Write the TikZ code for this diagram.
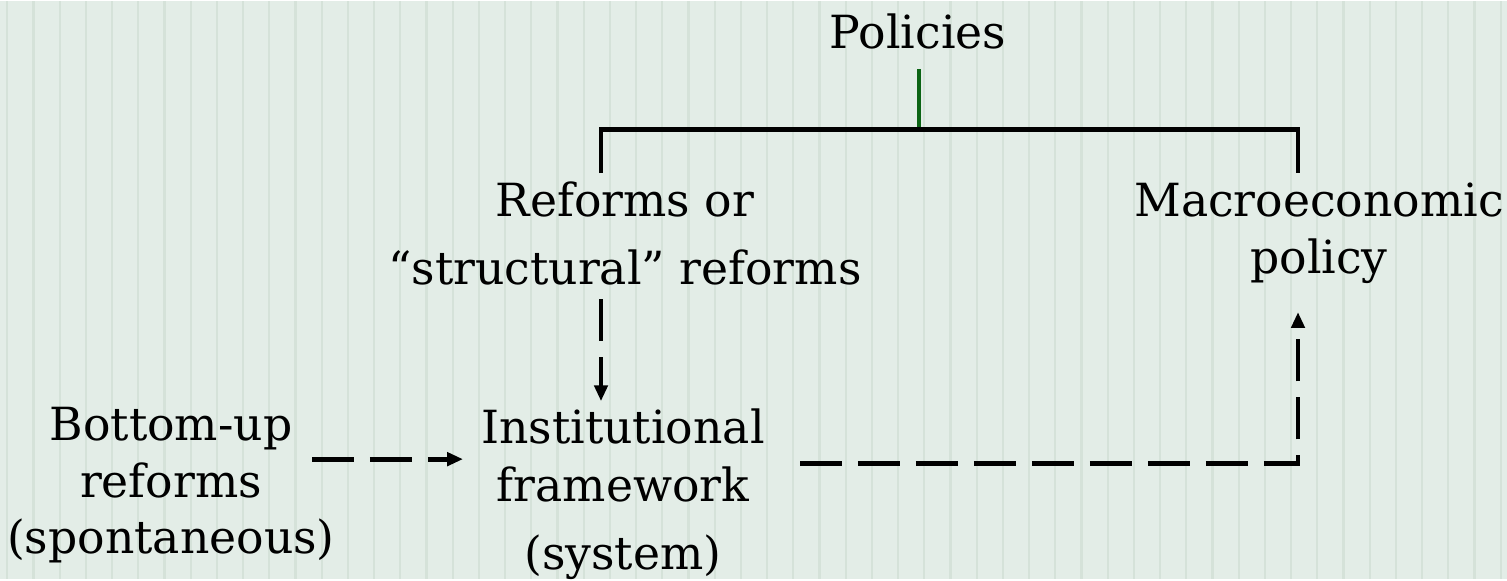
\documentclass[tikz,border=0pt]{standalone}
\usepackage{fontspec}
\setmainfont{DejaVu Serif}
\usetikzlibrary{arrows.meta, positioning}
\definecolor{bgpaper}{HTML}{E3EDE7}
\definecolor{bgstripe}{HTML}{D5E2D9}
\definecolor{stemgreen}{HTML}{0B6414}

\begin{document}
\begin{tikzpicture}[
  x=0.02cm, y=-0.02cm,
  every node/.style={align=center, inner sep=0pt},
  % Labels - plain text, no frame
  label/.style={font=\fontsize{26}{#1}\selectfont},
  label/.default=32,
  % Tree lines - solid, thick
  tree/.style={line width=2.7pt, draw=black},
  % Influence arrows - long dashes with a filled triangle tip
  influence/.style={-{Triangle[length=9pt, width=7.5pt]}, line width=2.7pt, draw=black, dash pattern=on 24pt off 9pt}
]

% === BACKGROUND ===
\fill[bgpaper] (0,0) rectangle (1507,578);
\foreach \k in {0,...,57}
  \draw[bgstripe, line width=1.3pt] ({7.3+26.2*\k},0) -- ({7.3+26.2*\k},578);
\useasboundingbox (0,0) rectangle (1507,578);

% === NODES (Labels) ===

% Top level
\node[label] (policies) at (918, 30) {Policies};

% Second level
\node[label=38.6] (reforms) at (625, 232) {Reforms or\\``structural'' reforms};
\node[label=32.3] (macro) at (1319, 232) {Macroeconomic\\policy};

% Bottom row
\node[label=32.9] (inst) at (623, 493) {Institutional\\framework\\[5.7pt](system)};
\node[label=32] (bottomup) at (171, 484) {Bottom-up\\reforms\\(spontaneous)};

% === COORDINATES (free line ends) ===
\coordinate (stemtop) at (919, 68);
\coordinate (stem) at (919, 128);
\coordinate (barL) at (601, 128);
\coordinate (barR) at (1298, 128);
\coordinate (dropL) at (601, 172);
\coordinate (dropR) at (1298, 172);
\coordinate (downS) at (601, 298);
\coordinate (downE) at (601, 400);
\coordinate (sideS) at (312, 458);
\coordinate (sideE) at (463, 458);
\coordinate (loopS) at (800, 462);
\coordinate (corner) at (1298, 462);
\coordinate (upE) at (1298, 311);

% === EDGES ===

% Policies splits into two branches
\draw[tree, stemgreen] (stemtop) -- (stem);
\draw[tree] (dropL) -- (barL) -- (barR) -- (dropR);

% Reforms -> Institutional framework
\draw[influence] (downS) -- (downE);

% Bottom-up reforms -> Institutional framework
\draw[influence] (sideS) -- (sideE);

% Institutional framework -> Macroeconomic policy
\draw[influence] (loopS) -- (corner) -- (upE);

\end{tikzpicture}
\end{document}
